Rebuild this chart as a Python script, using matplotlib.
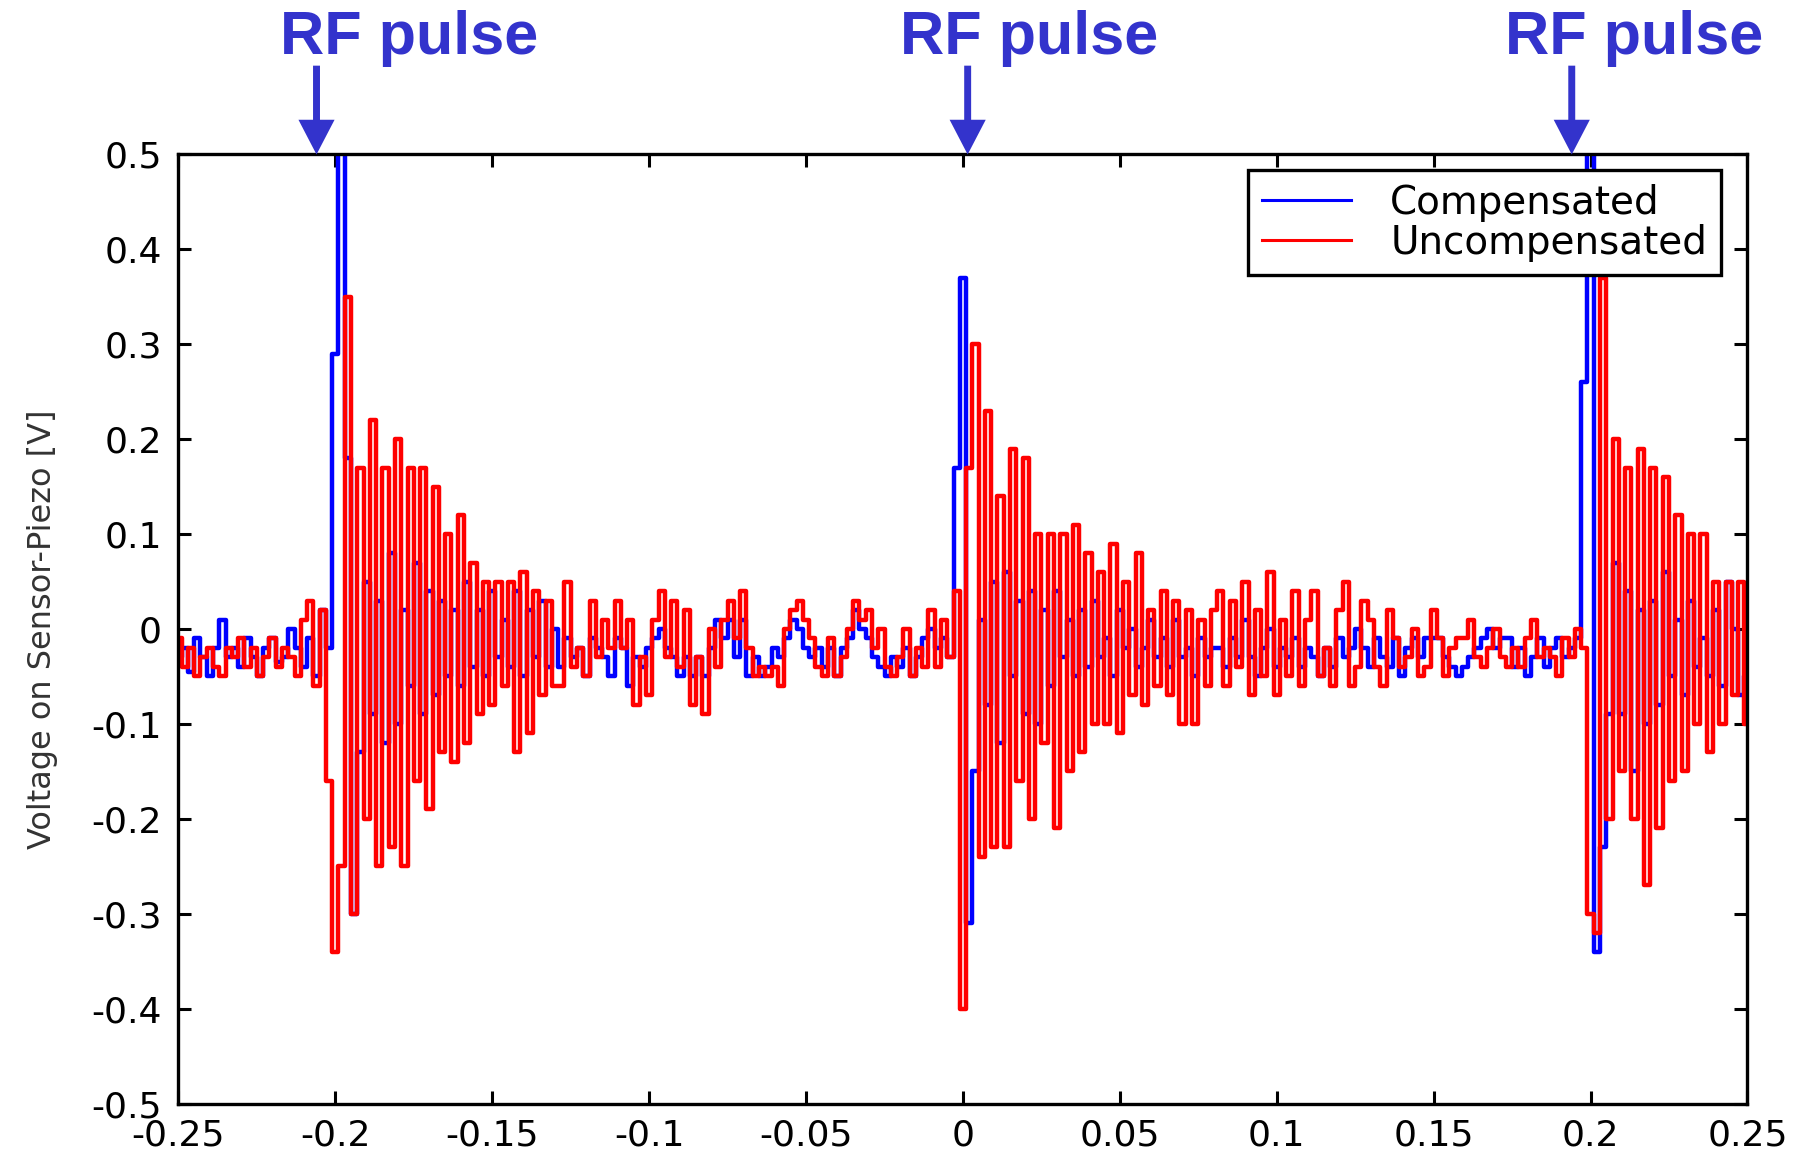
import numpy as np
import matplotlib
matplotlib.use("Agg")
import matplotlib.pyplot as plt

# time axis: one sample every 2 ms from -0.25 s to 0.25 s
t_start = -0.25
t_step = 0.002

# voltage on sensor-piezo [V]
compensated = [
    # quiet, -0.25 .. -0.202
    -0.03, -0.02, -0.045, -0.01, -0.03, -0.05, -0.02, 0.01, -0.03, -0.02,
    -0.04, -0.01, -0.03, -0.05, -0.02, -0.01, -0.035, -0.03, 0.0, -0.02,
    -0.04, -0.01, -0.05, 0.02, -0.02,
    # RF pulse 1, -0.2 .. -0.13
    0.29, 0.51, 0.18, -0.30, -0.13, 0.05, -0.09, 0.03, -0.12, 0.08,
    -0.10, 0.02, -0.06, 0.07, -0.09, 0.04, -0.07, 0.03, -0.05, 0.02,
    -0.06, 0.05, -0.04, 0.02, -0.05, 0.04, -0.03, 0.01, -0.04, 0.04,
    -0.05, 0.02, -0.03, 0.03, -0.04, 0.0,
    # quiet, -0.128 .. -0.002
    -0.04, -0.01, -0.03, -0.02, -0.05, -0.01, -0.02, -0.03, -0.05, -0.01,
    -0.02, -0.06, -0.03, -0.04, -0.02, -0.01, 0.0, -0.02, -0.03, -0.05,
    -0.03, -0.05, -0.03, -0.05, -0.02, 0.01, -0.01, 0.01, -0.03, 0.01,
    -0.05, -0.03, -0.05, -0.04, -0.02, -0.03, -0.01, 0.01, 0.0, -0.02,
    -0.03, -0.02, -0.04, -0.02, -0.05, -0.02, -0.01, 0.02, 0.0, -0.01,
    -0.03, -0.04, -0.05, -0.03, -0.04, -0.02, -0.05, -0.03, -0.01, 0.0,
    -0.02, -0.01, -0.03, 0.17,
    # RF pulse 2, 0.0 .. 0.08
    0.37, -0.31, -0.15, 0.01, -0.08, 0.05, -0.12, 0.06, -0.05, 0.03,
    -0.09, 0.04, -0.10, 0.02, -0.06, 0.04, -0.03, 0.01, -0.05, 0.02,
    -0.04, 0.03, -0.03, -0.01, -0.05, 0.02, -0.02, 0.0, -0.04, -0.02,
    0.01, -0.03, -0.01, -0.04, 0.01, -0.03, -0.02, -0.05, -0.01, -0.03,
    -0.02,
    # quiet, 0.082 .. 0.198
    -0.02, -0.04, -0.01, -0.03, 0.01, -0.03, -0.05, -0.02, 0.0, -0.04,
    -0.02, -0.03, -0.01, -0.04, -0.02, -0.03, -0.05, -0.02, -0.04, -0.01,
    -0.03, -0.02, 0.0, -0.02, -0.04, -0.01, -0.03, -0.04, -0.01, -0.05,
    -0.02, -0.01, -0.03, -0.01, -0.01, -0.01, -0.03, -0.04, -0.05, -0.04,
    -0.03, -0.02, -0.01, 0.0, -0.02, -0.01, -0.01, -0.04, -0.02, -0.05,
    -0.03, -0.01, -0.04, -0.02, -0.01, -0.03, -0.02, -0.01, 0.26,
    # RF pulse 3, 0.2 .. 0.25
    0.51, -0.34, -0.23, -0.09, 0.07, -0.09, 0.04, -0.15, 0.02, -0.10,
    0.03, -0.08, 0.06, -0.05, 0.01, -0.07, 0.03, -0.04, -0.01, -0.05,
    0.02, -0.06, 0.05, 0.0, -0.07, -0.05,
]

uncompensated = [
    # quiet
    -0.01, -0.04, -0.02, -0.05, -0.03, -0.02, -0.04, -0.05, -0.02, -0.03,
    -0.01, -0.04, -0.02, -0.05, -0.03, -0.01, -0.04, -0.02, -0.03, -0.05,
    0.01, 0.03, -0.06, 0.02, -0.16,
    # RF pulse 1
    -0.34, -0.25, 0.35, -0.30, 0.17, -0.20, 0.22, -0.25, 0.17, -0.23,
    0.20, -0.25, 0.17, -0.16, 0.17, -0.19, 0.15, -0.13, 0.10, -0.14,
    0.12, -0.12, 0.07, -0.09, 0.05, -0.08, 0.05, -0.06, 0.05, -0.13,
    0.06, -0.11, 0.04, -0.07, 0.03, -0.06,
    # quiet
    -0.06, 0.05, -0.04, -0.02, -0.05, 0.03, -0.03, 0.01, -0.02, 0.03,
    -0.02, 0.01, -0.08, -0.03, -0.07, 0.01, 0.04, -0.03, 0.03, -0.04,
    0.02, -0.08, -0.03, -0.09, 0.0, -0.04, 0.01, 0.03, -0.01, 0.04,
    -0.02, -0.05, -0.04, -0.05, -0.04, -0.06, 0.0, 0.02, 0.03, 0.01,
    -0.01, -0.04, -0.05, -0.01, -0.05, -0.03, 0.0, 0.03, 0.01, 0.02,
    -0.02, 0.0, -0.04, -0.05, -0.03, 0.0, -0.05, -0.02, -0.04, 0.02,
    -0.04, 0.01, -0.03, 0.04,
    # RF pulse 2
    -0.40, 0.17, 0.30, -0.24, 0.23, -0.23, 0.14, -0.23, 0.19, -0.16,
    0.18, -0.20, 0.10, -0.12, 0.10, -0.21, 0.10, -0.15, 0.11, -0.13,
    0.08, -0.10, 0.06, -0.10, 0.09, -0.11, 0.05, -0.07, 0.08, -0.08,
    0.02, -0.06, 0.04, -0.07, 0.03, -0.10, 0.02, -0.10, 0.01, -0.06,
    0.02,
    # quiet
    0.04, -0.06, 0.03, -0.04, 0.05, -0.07, 0.02, -0.05, 0.06, -0.07,
    0.01, -0.05, 0.04, -0.06, 0.01, 0.04, -0.05, -0.02, -0.06, 0.02,
    0.05, -0.06, -0.04, 0.03, 0.01, -0.04, -0.06, 0.02, -0.01, -0.04,
    -0.03, 0.0, -0.05, -0.04, 0.02, -0.01, -0.05, -0.02, -0.01, -0.01,
    0.01, -0.03, -0.04, -0.02, 0.0, -0.03, -0.04, -0.02, -0.04, -0.01,
    0.01, -0.03, -0.02, -0.03, -0.05, -0.01, -0.03, 0.0, -0.02,
    # RF pulse 3
    -0.30, -0.32, 0.37, -0.20, 0.20, -0.15, 0.17, -0.20, 0.19, -0.27,
    0.17, -0.21, 0.16, -0.16, 0.12, -0.15, 0.10, -0.10, 0.10, -0.13,
    0.05, -0.10, 0.05, -0.07, 0.05, -0.10,
]

x_ticks = [-0.25, -0.2, -0.15, -0.1, -0.05, 0, 0.05, 0.1, 0.15, 0.2, 0.25]
x_tick_labels = ["-0.25", "-0.2", "-0.15", "-0.1", "-0.05", "0", "0.05", "0.1", "0.15", "0.2", "0.25"]
y_ticks = [-0.5, -0.4, -0.3, -0.2, -0.1, 0, 0.1, 0.2, 0.3, 0.4, 0.5]
y_tick_labels = ["-0.5", "-0.4", "-0.3", "-0.2", "-0.1", "0", "0.1", "0.2", "0.3", "0.4", "0.5"]

# where the RF pulses hit (arrow tips) and where their labels sit
pulse_times = [-0.206, 0.0015, 0.194]
pulse_label_x = [0.2265, 0.5698, 0.9047]

t = t_start + t_step * np.arange(len(compensated))

annot = "#3333cc"

fig = plt.figure(figsize=(18.06, 11.52), dpi=100)
ax = fig.add_axes([0.0988, 0.0421, 0.8688, 0.8238])

ax.plot(t, compensated, color="#0000ff", lw=3.2, drawstyle="steps-mid", label="Compensated")
ax.plot(t, uncompensated, color="#ff0000", lw=3.2, drawstyle="steps-mid", label="Uncompensated")

ax.set_xlim(-0.25, 0.25)
ax.set_ylim(-0.5, 0.5)
ax.set_xticks(x_ticks)
ax.set_xticklabels(x_tick_labels)
ax.set_yticks(y_ticks)
ax.set_yticklabels(y_tick_labels)
ax.tick_params(direction="in", length=9.5, width=2.2, top=True, right=True, labelsize=26)
ax.tick_params(axis="x", pad=11)
ax.tick_params(axis="y", pad=12)
for s in ax.spines.values():
    s.set_linewidth(2.4)

ax.set_ylabel("Voltage on Sensor-Piezo [V]", fontsize=23, color="#333333")
ax.yaxis.set_label_coords(-0.077, 0.5)

leg = ax.legend(loc="upper right", bbox_to_anchor=(0.983, 0.9837), borderaxespad=0,
                fontsize=28, handlelength=2.3, handletextpad=1.0, borderpad=0.35,
                labelspacing=0.05, fancybox=False, framealpha=1, edgecolor="black")
leg.get_frame().set_linewidth(2.4)
for line in leg.get_lines():
    line.set_linewidth(2.2)

for tp, lx in zip(pulse_times, pulse_label_x):
    ax.annotate("", xy=(tp, 0.5), xycoords="data",
                xytext=(tp, 0.943), textcoords=("data", "figure fraction"),
                arrowprops=dict(facecolor=annot, edgecolor="none", width=5,
                                headwidth=26, headlength=25, shrink=0),
                annotation_clip=False)
    fig.text(lx, 0.953, "RF pulse", ha="center", va="baseline", color=annot,
             fontsize=44, fontweight="bold", family=["Liberation Sans", "DejaVu Sans"])

fig.savefig("out.png", dpi=100)
